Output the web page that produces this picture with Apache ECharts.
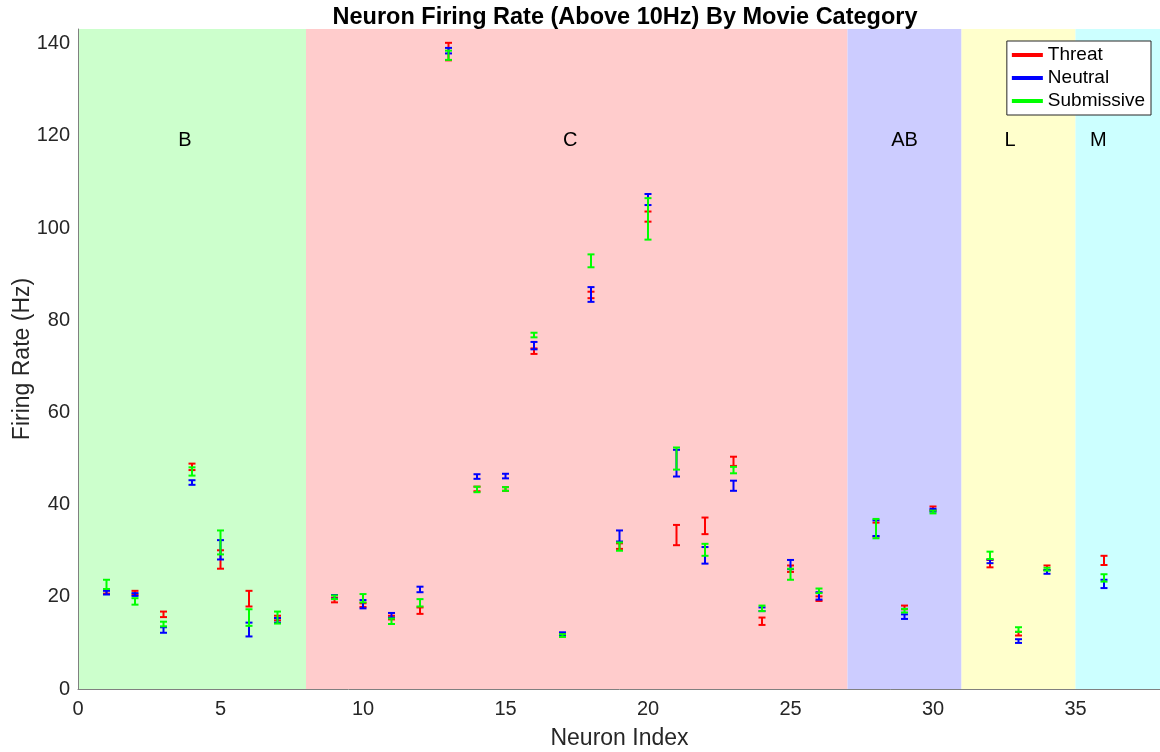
<!DOCTYPE html>
<html>
<head>
<meta charset="utf-8">
<title>Neuron Firing Rate</title>
<script src="https://cdn.jsdelivr.net/npm/echarts@6/dist/echarts.min.js"></script>
<style>
  html, body { margin: 0; padding: 0; background: #ffffff; }
  #chart { width: 1160px; height: 752px; }
</style>
</head>
<body>
<div id="chart"></div>
<script>
// Neuron indices that have at least one category above 10 Hz
const neurons = [1, 2, 3, 4, 5, 6, 7, 9, 10, 11, 12, 13, 14, 15, 16, 17, 18, 19, 20, 21, 22, 23, 24, 25, 26, 28, 29, 30, 32, 33, 34, 36];

// Mean firing rate (Hz) and error half-width per movie condition
const threatMean = [21.1, 20.9, 16.2, 48.2, 28.1, 19.6, 15.4, 19.3, 18.2, 15.5, 17.0, 138.3, 43.4, 43.4, 73.3, 11.7, 85.5, 31.0, 102.5, 33.4, 35.4, 49.4, 14.7, 26.1, 19.6, 34.6, 17.7, 39.2, 27.2, 12.0, 26.3, 27.9];
const threatErr  = [0.4, 0.4, 0.6, 0.7, 2.0, 1.7, 0.5, 0.5, 0.4, 0.4, 0.7, 1.9, 0.5, 0.4, 0.6, 0.3, 0.7, 0.6, 1.1, 2.2, 1.8, 1.0, 0.8, 0.7, 0.5, 1.5, 0.4, 0.4, 0.8, 0.4, 0.5, 1.0];

const neutralMean = [20.9, 20.5, 12.8, 44.8, 30.2, 12.9, 14.9, 20.0, 18.4, 16.0, 21.6, 138.5, 46.1, 46.2, 74.5, 12.0, 85.6, 33.2, 106.2, 49.0, 29.0, 44.1, 17.3, 27.0, 20.2, 34.9, 15.7, 38.8, 27.7, 10.4, 25.4, 22.8];
const neutralErr  = [0.4, 0.3, 0.6, 0.5, 2.1, 1.5, 0.5, 0.4, 0.9, 0.5, 0.6, 0.6, 0.5, 0.5, 0.8, 0.3, 1.6, 1.2, 1.2, 2.9, 1.8, 1.1, 0.4, 1.0, 0.8, 1.7, 0.5, 0.3, 0.4, 0.4, 0.4, 0.9];

const submissiveMean = [22.7, 19.0, 14.1, 47.2, 31.8, 15.5, 15.5, 19.9, 19.7, 14.7, 18.7, 137.5, 43.3, 43.4, 76.8, 11.6, 92.9, 30.9, 102.0, 50.0, 30.2, 47.5, 17.5, 24.9, 21.3, 34.8, 17.0, 38.4, 29.0, 12.9, 26.0, 24.1];
const submissiveErr  = [1.0, 0.7, 0.5, 0.9, 2.6, 1.8, 1.3, 0.4, 0.9, 0.6, 0.8, 1.0, 0.6, 0.4, 0.5, 0.3, 1.4, 0.9, 4.5, 2.4, 1.3, 0.7, 0.6, 1.2, 0.5, 2.1, 0.4, 0.3, 0.8, 0.5, 0.3, 0.8];

// Movie category bands along the neuron index axis
const categoryNames  = ['B', 'C', 'AB', 'L', 'M'];
const categoryStart  = [0, 8, 27, 31, 35];
const categoryEnd    = [8, 27, 31, 35, 38];
const categoryLabelX = [3.75, 17.27, 29.0, 32.7, 35.8];
const categoryLabelY = 119;
const categoryColors = ['#ccffcc', '#ffcccc', '#ccccff', '#ffffcc', '#ccffff'];

// Axis ticks
const xTicks = { min: 0, max: 38, interval: 5 };
const yTicks = { min: 0, max: 143.2, interval: 20 };

const FONT = '"Liberation Sans", Arial, Helvetica, sans-serif';

const chart = echarts.init(document.getElementById('chart'), null, { renderer: 'canvas' });

function barRows(means, errs) {
  return neurons.map((n, i) => [n, means[i] - errs[i], means[i] + errs[i]]);
}

function makeErrorBarRenderer(color) {
  return function (params, api) {
    const x = api.value(0);
    const lo = api.value(1);
    const hi = api.value(2);
    const top = api.coord([x, hi]);
    const bot = api.coord([x, lo]);
    const hw = 3.5;
    const style = { stroke: color, lineWidth: 2, fill: null };
    return {
      type: 'group',
      children: [
        { type: 'line', shape: { x1: top[0], y1: top[1], x2: bot[0], y2: bot[1] }, style: style },
        { type: 'line', shape: { x1: top[0] - hw, y1: top[1], x2: top[0] + hw, y2: top[1] }, style: style },
        { type: 'line', shape: { x1: bot[0] - hw, y1: bot[1], x2: bot[0] + hw, y2: bot[1] }, style: style }
      ]
    };
  };
}

function errorSeries(name, color, means, errs, z) {
  return {
    name: name,
    type: 'custom',
    z: z,
    itemStyle: { color: color },
    renderItem: makeErrorBarRenderer(color),
    encode: { x: 0, y: [1, 2] },
    data: barRows(means, errs),
    silent: true
  };
}

const bandRows = categoryNames.map((n, i) => [categoryStart[i], categoryEnd[i], i]);
const labelRows = categoryNames.map((n, i) => [categoryLabelX[i], categoryLabelY, i]);

const option = {
  backgroundColor: '#ffffff',
  animation: false,
  title: {
    text: 'Neuron Firing Rate (Above 10Hz) By Movie Category',
    left: 620,
    textAlign: 'center',
    top: 1,
    textStyle: { fontFamily: FONT, fontSize: 23.5, fontWeight: 'bold', color: '#000000' }
  },
  grid: { left: 78, top: 29, width: 1083, height: 660, containLabel: false, outerBoundsMode: 'none' },
  legend: {
    orient: 'vertical',
    right: 9,
    top: 41,
    backgroundColor: '#ffffff',
    borderColor: '#262626',
    borderWidth: 1,
    borderRadius: 0,
    padding: [3, 6, 3, 5],
    itemGap: 1,
    itemWidth: 31,
    itemHeight: 4,
    itemTextGap: 5,
    icon: 'rect',
    textStyle: { fontFamily: FONT, fontSize: 19, color: '#000000', lineHeight: 22 },
    data: [
      { name: 'Threat', itemStyle: { color: '#ff0000' } },
      { name: 'Neutral', itemStyle: { color: '#0000ff' } },
      { name: 'Submissive', itemStyle: { color: '#00ff00' } }
    ]
  },
  xAxis: {
    type: 'value',
    min: xTicks.min,
    max: xTicks.max,
    interval: xTicks.interval,
    name: 'Neuron Index',
    nameLocation: 'middle',
    nameGap: 38,
    nameMoveOverlap: false,
    nameTextStyle: { fontFamily: FONT, fontSize: 23, color: '#262626' },
    axisLine: { show: true, onZero: false, lineStyle: { color: '#808080', width: 1 } },
    axisTick: { show: false },
    splitLine: { show: false },
    axisLabel: { fontFamily: FONT, fontSize: 20, color: '#262626', margin: 10, showMaxLabel: false }
  },
  yAxis: {
    type: 'value',
    min: yTicks.min,
    max: yTicks.max,
    interval: yTicks.interval,
    name: 'Firing Rate (Hz)',
    nameLocation: 'middle',
    nameGap: 44,
    nameMoveOverlap: false,
    nameTextStyle: { fontFamily: FONT, fontSize: 23, color: '#262626' },
    axisLine: { show: true, onZero: false, lineStyle: { color: '#808080', width: 1 } },
    axisTick: { show: false },
    splitLine: { show: false },
    axisLabel: { fontFamily: FONT, fontSize: 20, color: '#262626', margin: 8, showMaxLabel: false }
  },
  series: [
    {
      name: 'categories',
      type: 'custom',
      z: 0,
      silent: true,
      encode: { x: [0, 1] },
      data: bandRows,
      renderItem: function (params, api) {
        const a = api.coord([api.value(0), yTicks.max]);
        const b = api.coord([api.value(1), yTicks.min]);
        return {
          type: 'rect',
          shape: { x: a[0], y: a[1], width: b[0] - a[0], height: b[1] - a[1] },
          style: { fill: categoryColors[api.value(2)] }
        };
      }
    },
    {
      name: 'categoryLabels',
      type: 'custom',
      z: 1,
      silent: true,
      encode: { x: 0, y: 1 },
      data: labelRows,
      renderItem: function (params, api) {
        const p = api.coord([api.value(0), api.value(1)]);
        return {
          type: 'text',
          x: p[0],
          y: p[1],
          style: {
            text: categoryNames[api.value(2)],
            fontFamily: FONT,
            fontSize: 20,
            fill: '#000000',
            align: 'center',
            verticalAlign: 'middle'
          }
        };
      }
    },
    errorSeries('Threat', '#ff0000', threatMean, threatErr, 2),
    errorSeries('Neutral', '#0000ff', neutralMean, neutralErr, 3),
    errorSeries('Submissive', '#00ff00', submissiveMean, submissiveErr, 4)
  ]
};

chart.setOption(option);
</script>
</body>
</html>
